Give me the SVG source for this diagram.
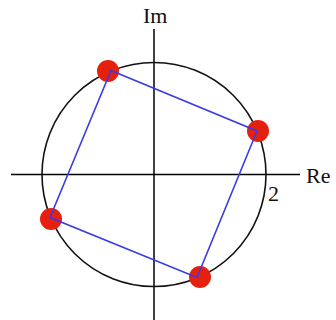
<svg xmlns="http://www.w3.org/2000/svg" width="336" height="320" viewBox="0 0 336 320">
<style>
.axis{stroke:#000;stroke-width:1.5;fill:none}
.circ{stroke:#111;stroke-width:1.6;fill:none}
.dot{fill:#e5200e}
.sq{stroke:#3a3ae6;stroke-width:1.6;fill:none;stroke-linejoin:miter}
text{font-family:"Liberation Serif","Times New Roman",serif;font-size:22px;fill:#111}
</style>
<rect width="336" height="320" fill="#fff"/>
<g id="axes">
<line class="axis" x1="154" y1="29" x2="154" y2="320"/>
<line class="axis" x1="11" y1="174.5" x2="300" y2="174.5"/>
</g>
<g id="circle"><circle class="circ" cx="154" cy="174.5" r="112"/></g>
<g id="dots">
<circle id="p1" class="dot" cx="108" cy="71" r="11"/>
<circle id="p2" class="dot" cx="258" cy="131" r="11"/>
<circle id="p3" class="dot" cx="51" cy="219" r="11"/>
<circle id="p4" class="dot" cx="200" cy="277" r="11"/>
</g>
<g id="connectors">
<polygon class="sq" points="111,70.5 257,131 197,277.5 50,217.5"/>
</g>
<g id="labels">
<text x="143" y="23">Im</text>
<text x="306" y="183">Re</text>
<text x="268" y="201">2</text>
</g>
</svg>
